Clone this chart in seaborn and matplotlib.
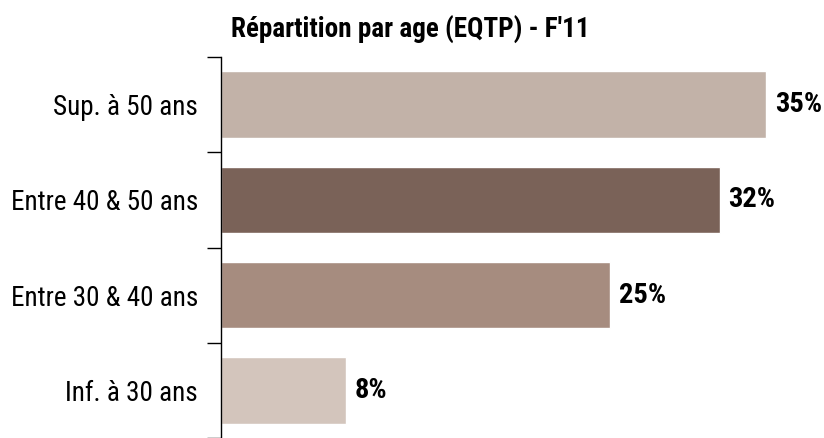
import matplotlib
matplotlib.use("Agg")
import matplotlib.pyplot as plt
from matplotlib import font_manager as fm
import seaborn as sns
import pandas as pd
import numpy as np

categories = ["Sup. à 50 ans", "Entre 40 & 50 ans", "Entre 30 & 40 ans", "Inf. à 30 ans"]
values = [35, 32, 25, 8]
colors = ["#c2b2a8", "#7a6258", "#a68c7f", "#d3c5bc"]
title = "Répartition par age (EQTP) - F'11"

# choose a narrow font family (Arial Narrow look-alike) that is installed
avail = {}
for f in fm.fontManager.ttflist:
    w = f.weight if isinstance(f.weight, (int, float)) else (700 if "bold" in str(f.weight) else 400)
    avail.setdefault(f.name, set()).add(w)
candidates = ["Roboto Condensed", "PT Sans Narrow", "Archivo Narrow", "Sofia Sans Condensed",
              "Saira SemiCondensed", "Liberation Sans"]
reg_family = next((c for c in candidates if c in avail), "DejaVu Sans")
bold_family = next((c for c in candidates if c in avail and max(avail[c]) >= 700), "DejaVu Sans")
if reg_family != bold_family and 400 in avail.get(bold_family, set()):
    reg_family = bold_family

sns.set_theme(style="white")
plt.rcParams['font.family'] = [reg_family, 'DejaVu Sans']

df = pd.DataFrame({"cat": categories, "val": values})

fig = plt.figure(figsize=(8.24, 4.38), dpi=100)
ax = fig.add_axes([221/824, 0, (813-221)/824, (438-57)/438])

sns.barplot(data=df, y="cat", x="val", hue="cat", palette=dict(zip(categories, colors)),
            order=categories, width=0.7, legend=False, ax=ax, saturation=1)

for i, v in enumerate(values):
    ax.text(v + 0.55, i, f"{v}%", va="center", ha="left", fontsize=20.5, fontweight="bold",
            color="black", family=[bold_family, 'DejaVu Sans'])

ax.set_xlim(0, 38)
ax.set_ylim(3.5, -0.5)
ax.set_xlabel("")
ax.set_ylabel("")
ax.set_xticks([])
for s in ["top", "right", "bottom"]:
    ax.spines[s].set_visible(False)
ax.spines["left"].set_color("black")
ax.spines["left"].set_linewidth(1)
ax.tick_params(axis="y", which="major", length=0, pad=16.5, labelsize=19.5, labelcolor="black")
ax.set_yticks(np.arange(-0.5, 4.0, 1.0), minor=True)
ax.tick_params(axis="y", which="minor", length=10, width=1, color="black", direction="out", left=True)

fig.text(410/824, 1 - 30/438, title, ha="center", va="center", fontsize=19.5, fontweight="bold",
         color="black", family=[bold_family, 'DejaVu Sans'])

fig.savefig("out.png", dpi=100)
